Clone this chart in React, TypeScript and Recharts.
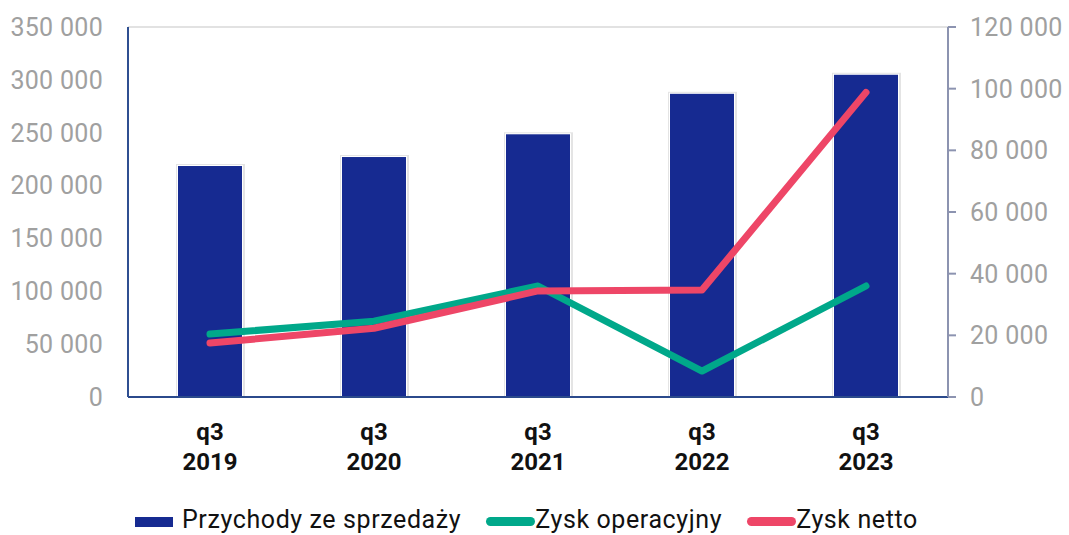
import {
    Bar, CartesianGrid, ComposedChart, Legend, Line, XAxis, YAxis
} from "recharts";

const periods = ["q3 2019", "q3 2020", "q3 2021", "q3 2022", "q3 2023"];
const revenue = [218500, 227000, 248500, 286800, 304800];
const operatingProfit = [20400, 24600, 36000, 8400, 36000];
const netProfit = [17500, 22300, 34400, 34700, 98800];

const leftTicks = [0, 50000, 100000, 150000, 200000, 250000, 300000, 350000];
const rightTicks = [0, 20000, 40000, 60000, 80000, 100000, 120000];

const NAVY = "#162a91";
const GREEN = "#00a88a";
const RED = "#ee4667";
const FONT = "Roboto, 'Noto Sans', sans-serif";

const data = periods.map((p, i) => ({
    period: p,
    revenue: revenue[i],
    operating: operatingProfit[i],
    net: netProfit[i],
}));

const fmt = (v: number) => v.toLocaleString("en-US").replace(/,/g, " ");

const AXIS_TICK = { fill: "#a0a0a0", fontSize: 25, fontFamily: FONT, letterSpacing: 0.3 };

function PeriodTick({ x, y, payload }: any) {
    const [q, year] = String(payload.value).split(" ");
    return (
        <g transform={`translate(${x},${y})`}>
            <text textAnchor="middle" fill="#111" fontSize={24} fontWeight="bold" fontFamily={FONT}>
                <tspan x={0} dy={35}>{q}</tspan>
                <tspan x={0} dy={30}>{year}</tspan>
            </text>
        </g>
    );
}

const legendItems = [
    { label: "Przychody ze sprzedaży", color: NAVY, kind: "bar" },
    { label: "Zysk operacyjny", color: GREEN, kind: "line" },
    { label: "Zysk netto", color: RED, kind: "line" },
];

function ChartLegend() {
    return (
        <div style={{
            display: "flex", justifyContent: "flex-start", alignItems: "center", height: 30,
            lineHeight: "30px", fontFamily: FONT, fontSize: 25, letterSpacing: 0.6, color: "#111",
            paddingLeft: 135, whiteSpace: "nowrap",
        }}>
            {legendItems.map((it) => (
                <span key={it.label} style={{ display: "flex", alignItems: "center", marginRight: 25 }}>
                    {it.kind === "bar" ? (
                        <span style={{ width: 38, height: 10, background: it.color, marginRight: 9, marginTop: 3 }} />
                    ) : (
                        <span style={{ width: 49, height: 9, borderRadius: 5, background: it.color, marginRight: 0, marginTop: 3 }} />
                    )}
                    {it.label}
                </span>
            ))}
        </div>
    );
}

function ShadowBar(props: any) {
    const { x, y, width, height, fill } = props;
    return (
        <g>
            <rect x={x - 2} y={y - 2} width={width + 5} height={height + 2} fill="#e4e4e4" />
            <rect x={x - 1} y={y - 1} width={width + 2} height={height + 1} fill="#ffffff" />
            <rect x={x} y={y} width={width} height={height} fill={fill} />
        </g>
    );
}

export default function App() {
    return (
        <div style={{ position: "absolute", left: 0, top: 0, width: 1069, height: 535, background: "#fff", overflow: "hidden" }}>
            <ComposedChart
                width={1069}
                height={535}
                data={data}
                margin={{ top: 27, right: 0, left: 0, bottom: 0 }}
                barCategoryGap={50}
            >
                <CartesianGrid vertical={false} stroke="#d9d9d9" strokeWidth={1.5} />
                <XAxis
                    dataKey="period"
                    height={108}
                    tick={<PeriodTick />}
                    tickLine={false}
                    axisLine={{ stroke: "#2b4a8c", strokeWidth: 2 }}
                    interval={0}
                />
                <YAxis
                    yAxisId="left"
                    width={128}
                    domain={[0, 350000]}
                    ticks={leftTicks}
                    tickFormatter={fmt}
                    tick={AXIS_TICK}
                    tickLine={false}
                    tickMargin={19}
                    axisLine={{ stroke: "#2f4f91", strokeWidth: 2 }}
                />
                <YAxis
                    yAxisId="right"
                    orientation="right"
                    width={121}
                    domain={[0, 120000]}
                    ticks={rightTicks}
                    tickFormatter={fmt}
                    tick={{ ...AXIS_TICK, textAnchor: "start" }}
                    tickSize={8}
                    tickMargin={14}
                    tickLine={{ stroke: "#8c93b0", strokeWidth: 2 }}
                    axisLine={{ stroke: "#8c93b0", strokeWidth: 2 }}
                />
                <Legend
                    verticalAlign="bottom"
                    content={<ChartLegend />}
                    wrapperStyle={{ height: 30, bottom: 0, left: 0, width: 1069 }}
                />
                <Bar
                    yAxisId="left"
                    dataKey="revenue"
                    name="Przychody ze sprzedaży"
                    fill={NAVY}
                    shape={<ShadowBar />}
                    isAnimationActive={false}
                />
                <Line
                    yAxisId="right"
                    dataKey="operating"
                    name="Zysk operacyjny"
                    stroke={GREEN}
                    strokeWidth={7}
                    strokeLinecap="round"
                    strokeLinejoin="round"
                    dot={false}
                    isAnimationActive={false}
                />
                <Line
                    yAxisId="right"
                    dataKey="net"
                    name="Zysk netto"
                    stroke={RED}
                    strokeWidth={7}
                    strokeLinecap="round"
                    strokeLinejoin="round"
                    dot={false}
                    isAnimationActive={false}
                />
            </ComposedChart>
        </div>
    );
}
